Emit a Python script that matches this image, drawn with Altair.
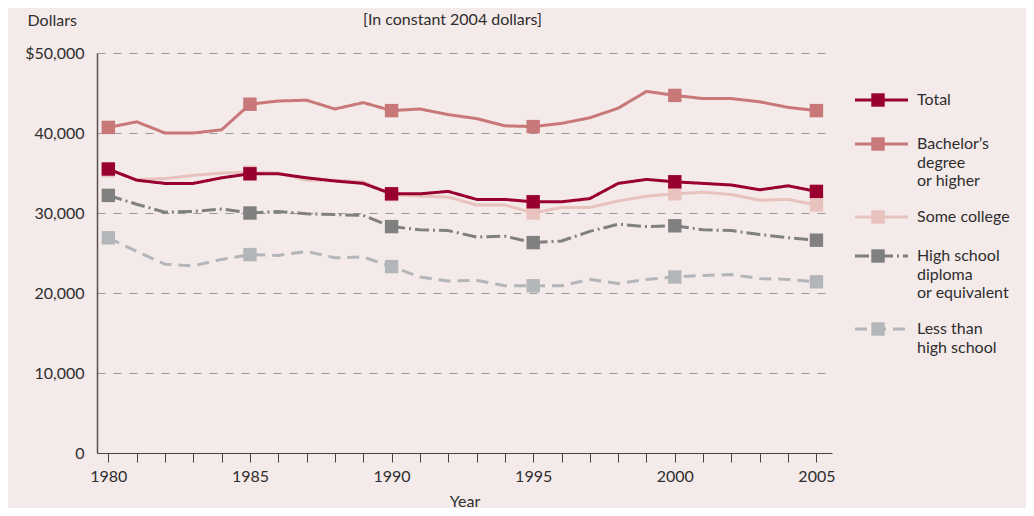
import altair as alt
import pandas as pd

years = list(range(1980, 2006))

series_names = ["Total", "Bachelor's degree or higher", "Some college",
                "High school diploma or equivalent", "Less than high school"]
legend_lines = [["Total"], ["Bachelor\u2019s", "degree", "or higher"], ["Some college"],
                ["High school", "diploma", "or equivalent"], ["Less than", "high school"]]

total = [35500, 34100, 33700, 33700, 34400, 34900, 34900, 34400, 34000, 33700,
         32400, 32400, 32700, 31700, 31700, 31400, 31400, 31800, 33700, 34200,
         33900, 33700, 33500, 32900, 33400, 32700]
bachelor = [40700, 41400, 40000, 40000, 40400, 43600, 44000, 44100, 43000, 43800,
            42800, 43000, 42300, 41800, 40900, 40800, 41200, 41900, 43100, 45200,
            44700, 44300, 44300, 43900, 43200, 42800]
some_college = [35300, 34200, 34300, 34700, 35000, 35100, 35000, 34100, 34100, 33900,
                32300, 32100, 32000, 31000, 31000, 30000, 30700, 30700, 31500, 32100,
                32400, 32600, 32300, 31600, 31700, 31000]
high_school = [32200, 31100, 30100, 30200, 30500, 30000, 30200, 29900, 29800, 29700,
               28300, 27900, 27800, 27000, 27100, 26300, 26500, 27700, 28600, 28300,
               28400, 27900, 27800, 27300, 26900, 26600]
less_than = [26900, 25200, 23600, 23400, 24200, 24800, 24700, 25200, 24400, 24500,
             23300, 22000, 21500, 21600, 20900, 20900, 20900, 21700, 21200, 21700,
             22000, 22200, 22300, 21800, 21700, 21400]

values = [total, bachelor, some_college, high_school, less_than]
colors = ["#990030", "#c87878", "#e8c2bd", "#808080", "#b3b6b9"]
dashes = [[1, 0], [1, 0], [1, 0], [14, 4, 2, 4], [12, 7]]

y_ticks = [0, 10000, 20000, 30000, 40000, 50000]

FONT = "Lato"
FS = 16
TEXT = "#2e2e2e"
BG = "#f5eaea"

rows = []
for name, vals in zip(series_names, values):
    for yr, v in zip(years, vals):
        rows.append({"Year": yr, "Value": v, "Series": name})
df = pd.DataFrame(rows)

x_axis = alt.Axis(values=years, tickSize=9, tickColor="#444", tickWidth=1,
                  domainColor="#444", domainWidth=1.2,
                  labelExpr="datum.value % 5 === 0 ? '' + datum.value : ''",
                  labelOverlap=False, labelBound=False, labelFlush=False,
                  labelFontSize=FS, labelFont=FONT, labelColor=TEXT,
                  labelPadding=6, grid=False, title="Year",
                  titleFontSize=FS, titleFont=FONT, titleFontWeight="normal",
                  titleColor=TEXT, titlePadding=9)
y_axis = alt.Axis(values=y_ticks, grid=True, gridDash=[8, 8], gridColor="#9a9a9a",
                  gridWidth=1.2, ticks=False, domainColor="#5a5050", domainWidth=1.5,
                  labelExpr="datum.value === 50000 ? '$50,000' : format(datum.value, ',')",
                  labelOverlap=False,
                  labelFontSize=FS, labelFont=FONT, labelColor=TEXT, labelPadding=13,
                  title="Dollars", titleAngle=0, titleAlign="left",
                  titleBaseline="middle", titleX=-70, titleY=-33,
                  titleFontSize=FS, titleFont=FONT, titleFontWeight="normal",
                  titleColor=TEXT)
x_scale = alt.Scale(domain=[1979.6, 2005.55], nice=False, zero=False)
y_scale = alt.Scale(domain=[0, 50000], nice=False)

base = alt.Chart(df)
draw_order = [4, 3, 2, 1, 0]
layers = []
for i in draw_order:
    name = series_names[i]
    sub = base.transform_filter(alt.datum.Series == name)
    line = sub.mark_line(strokeWidth=3, color=colors[i], strokeDash=dashes[i],
                         strokeCap="butt", strokeJoin="round").encode(
        x=alt.X("Year:Q", scale=x_scale, axis=x_axis),
        y=alt.Y("Value:Q", scale=y_scale, axis=y_axis))
    pts = sub.transform_filter("datum.Year % 5 === 0").mark_point(
        shape="square", filled=True, size=180, opacity=1, color=colors[i]).encode(
        x=alt.X("Year:Q", scale=x_scale, axis=x_axis),
        y=alt.Y("Value:Q", scale=y_scale, axis=y_axis))
    layers += [line, pts]

# Note text
note = alt.Chart(pd.DataFrame({"t": ["[In constant 2004 dollars]"]})).mark_text(
    align="left", baseline="middle", fontSize=FS, font=FONT, color=TEXT).encode(
    text="t:N", x=alt.value(266), y=alt.value(-33))
layers.append(note)

# Legend
legend_y = [47, 91, 164, 203, 276]
line_h = 18.5
for i, name in enumerate(series_names):
    yy = legend_y[i]
    ld = alt.Chart(pd.DataFrame({"s": [name]}))
    layers.append(ld.mark_rule(strokeWidth=3, color=colors[i], strokeDash=dashes[i],
                               strokeCap="butt").encode(
        x=alt.value(758), x2=alt.value(811), y=alt.value(yy)))
    layers.append(ld.mark_point(shape="square", filled=True, size=180, opacity=1,
                                color=colors[i]).encode(
        x=alt.value(781), y=alt.value(yy)))
    for k, ln in enumerate(legend_lines[i]):
        layers.append(alt.Chart(pd.DataFrame({"t": [ln]})).mark_text(
            align="left", baseline="middle", fontSize=FS, font=FONT, color=TEXT).encode(
            text="t:N", x=alt.value(820), y=alt.value(yy + k * line_h)))

chart = alt.layer(*layers).properties(
    width=735, height=400,
    autosize=alt.AutoSizeParams(type="none"),
    padding={"left": 89, "top": 45, "right": 194, "bottom": 55},
    background=BG,
).configure_view(stroke=None).configure_axis(labelOverlap=False)

chart.save("out.html", embed_options={"renderer": "svg", "actions": False})
